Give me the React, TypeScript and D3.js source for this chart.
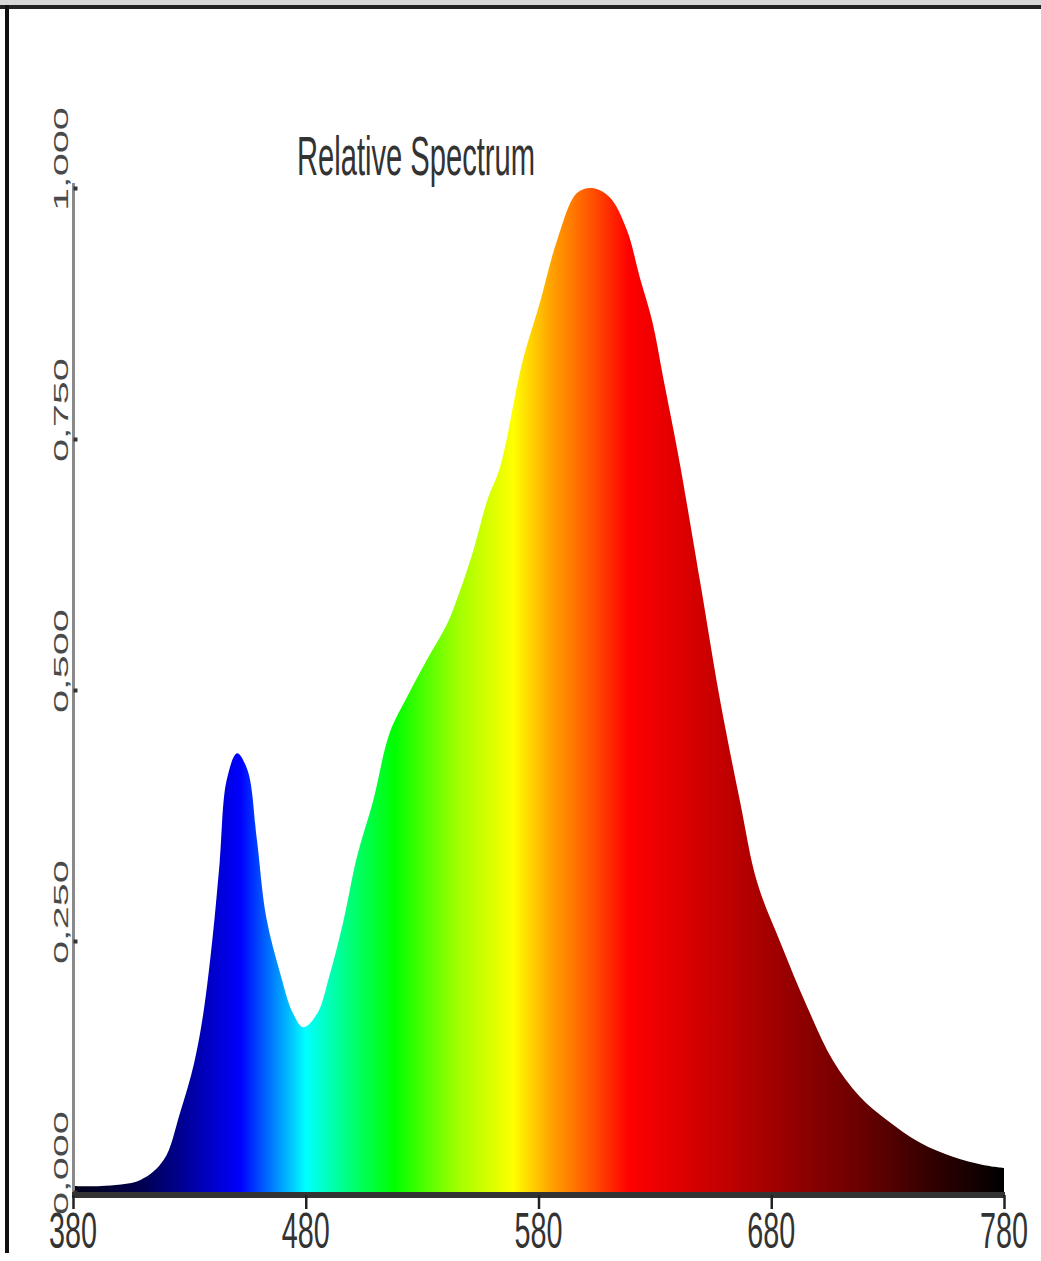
import React, { useEffect, useRef } from 'react';
import * as d3 from 'd3';

// wavelength (nm) and relative intensity
const wavelengths = [
  380, 392, 409, 419, 426, 432, 436, 440, 443, 446, 450.5, 455, 459, 463, 469, 474.5, 479,
  485, 490, 496, 502, 509, 516, 523.5, 532, 541, 546, 552, 558, 563.5, 573, 580.5, 588,
  596.5, 603, 610.5, 618, 623.5, 629, 633.5, 638, 641, 649.5, 658, 666.5, 674, 684, 695.5,
  706.5, 718, 729.5, 744, 758, 771, 780,
];
const intensity = [
  0.006, 0.006, 0.012, 0.032, 0.079, 0.128, 0.178, 0.254, 0.328, 0.41, 0.437, 0.42, 0.351,
  0.274, 0.218, 0.178, 0.164, 0.178, 0.214, 0.268, 0.334, 0.39, 0.457, 0.493, 0.53, 0.567,
  0.597, 0.639, 0.689, 0.722, 0.826, 0.885, 0.948, 0.995, 1.0, 0.991, 0.958, 0.911, 0.866,
  0.812, 0.759, 0.722, 0.607, 0.49, 0.39, 0.308, 0.248, 0.184, 0.131, 0.095, 0.072, 0.049,
  0.035, 0.027, 0.024,
];

const xTicks = [380, 480, 580, 680, 780];
const yTicks = [0, 0.25, 0.5, 0.75, 1];
const yTickLabels = ['0,000', '0,250', '0,500', '0,750', '1,000'];
const title = 'Relative Spectrum';

// spectral colour ramp (wavelength -> colour)
const rampWavelengths = [380, 410, 430, 445, 452, 466, 480, 498, 518, 545, 569, 586, 600, 619, 661, 692, 721, 750, 780];
const rampColors = [
  '#000018', '#000050', '#0000a0', '#0000e0', '#0000ff', '#0080ff', '#00ffff', '#00ff80',
  '#00ff00', '#a0ff00', '#ffff00', '#ffa000', '#ff6000', '#ff0000', '#c00000', '#900000',
  '#660000', '#300000', '#000000',
];

const W = 1041;
const H = 1261;
const FONT = "'Liberation Sans', Arial, Helvetica, sans-serif";

export default function App() {
  const svgRef = useRef<SVGSVGElement>(null);

  useEffect(() => {
    if (!svgRef.current) return;
    const svg = d3.select(svgRef.current);
    svg.selectAll('*').remove();

    const x = d3.scaleLinear().domain([380, 780]).range([73, 1004]);
    const y = d3.scaleLinear().domain([0, 1]).range([1192, 188]);

    const data = wavelengths.map((w, i) => ({ w, v: intensity[i] }));

    svg.append('rect').attr('width', W).attr('height', H).attr('fill', '#fff');

    // frame pieces
    svg.append('rect').attr('x', 0).attr('y', 0).attr('width', W).attr('height', 5).attr('fill', '#d6d6d6');
    svg.append('rect').attr('x', 0).attr('y', 5).attr('width', W).attr('height', 4).attr('fill', '#222');
    svg.append('rect').attr('x', 5).attr('y', 5).attr('width', 4).attr('height', 1248).attr('fill', '#111');

    // gradient
    const defs = svg.append('defs');
    const grad = defs.append('linearGradient')
      .attr('id', 'spectrum-grad')
      .attr('gradientUnits', 'userSpaceOnUse')
      .attr('x1', x(380)).attr('x2', x(780))
      .attr('y1', 0).attr('y2', 0);
    rampWavelengths.forEach((w, i) => {
      grad.append('stop')
        .attr('offset', (w - 380) / 400)
        .attr('stop-color', rampColors[i]);
    });

    const area = d3.area<{ w: number; v: number }>()
      .x(d => x(d.w))
      .y0(y(0))
      .y1(d => y(d.v))
      .curve(d3.curveCatmullRom.alpha(0.5));

    svg.append('path')
      .datum(data)
      .attr('fill', 'url(#spectrum-grad)')
      .attr('d', area);

    // title
    svg.append('text')
      .attr('x', 297)
      .attr('y', 175)
      .attr('font-family', FONT)
      .attr('font-size', 56)
      .attr('fill', '#333')
      .attr('textLength', 238)
      .attr('lengthAdjust', 'spacingAndGlyphs')
      .text(title);

    // y axis
    const yAxis = d3.axisLeft(y)
      .tickValues(yTicks)
      .tickSize(-4)
      .tickSizeOuter(0)
      .tickFormat(() => '');
    svg.append('g')
      .attr('transform', 'translate(73.5,0)')
      .call(yAxis)
      .call(g => g.select('.domain').attr('stroke', '#8a8a8a').attr('stroke-width', 3)
        .attr('d', `M0,${y(1) - 5}V${y(0)}`))
      .call(g => g.selectAll('.tick line').attr('stroke', '#333').attr('stroke-width', 4));

    yTicks.forEach((t, i) => {
      const ty = y(t) + 23;
      svg.append('text')
        .attr('transform', `translate(68,${ty}) rotate(-90)`)
        .attr('font-family', FONT)
        .attr('font-size', 21)
        .attr('fill', '#4a4a4a')
        .attr('textLength', 104)
        .attr('lengthAdjust', 'spacingAndGlyphs')
        .text(yTickLabels[i]);
    });

    // x axis
    const xAxis = d3.axisBottom(x)
      .tickValues(xTicks)
      .tickSize(14)
      .tickSizeOuter(0)
      .tickFormat(() => '');
    svg.append('g')
      .attr('transform', 'translate(0,1195)')
      .call(xAxis)
      .call(g => g.select('.domain').attr('stroke', '#333').attr('stroke-width', 6)
        .attr('d', `M${x(380) - 1},0H${x(780) + 1}`))
      .call(g => g.selectAll('.tick line').attr('stroke', '#222').attr('stroke-width', 2.5));

    xTicks.forEach(t => {
      svg.append('text')
        .attr('x', x(t))
        .attr('y', 1248)
        .attr('text-anchor', 'middle')
        .attr('font-family', FONT)
        .attr('font-size', 50)
        .attr('fill', '#333')
        .attr('textLength', 48)
        .attr('lengthAdjust', 'spacingAndGlyphs')
        .text(String(t));
    });
  }, []);

  return (
    <div style={{ position: 'absolute', left: 0, top: 0, width: W, height: H }}>
      <svg ref={svgRef} width={W} height={H} style={{ display: 'block' }} />
    </div>
  );
}
